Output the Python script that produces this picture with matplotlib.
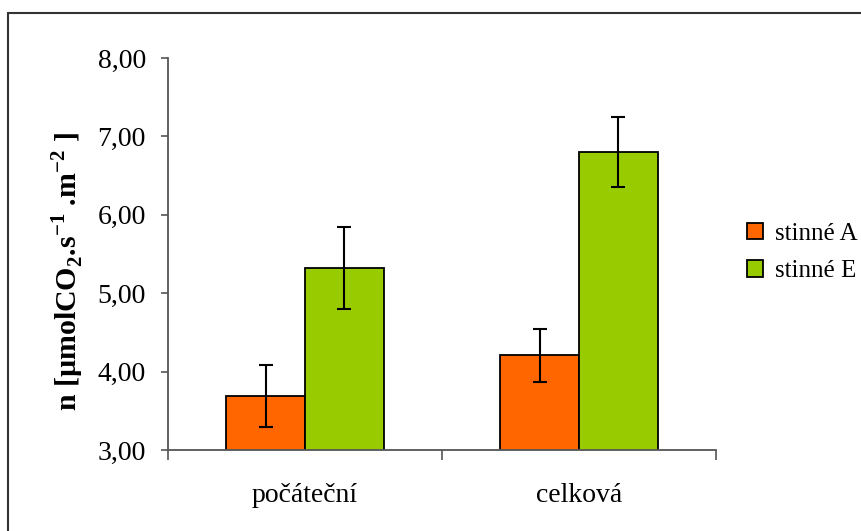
import numpy as np
import matplotlib.pyplot as plt
from matplotlib.patches import Rectangle
from matplotlib.ticker import FuncFormatter

categories = ['počáteční', 'celková']
series_names = ['stinné A', 'stinné E']
values_a = [3.69, 4.21]
errors_a = [0.39, 0.34]
values_e = [5.32, 6.80]
errors_e = [0.52, 0.45]
colors = ['#FF6600', '#99CC00']

plt.rcParams['font.family'] = ['Liberation Serif', 'DejaVu Serif']
plt.rcParams['mathtext.fontset'] = 'custom'
plt.rcParams['mathtext.rm'] = 'Liberation Serif'
plt.rcParams['mathtext.bf'] = 'Liberation Serif:bold'

fig = plt.figure(figsize=(8.62, 5.31), dpi=100)
ax = fig.add_axes([0.1949, 0.1525, 0.6357, 0.7382])

# outer chart frame (right and bottom edges fall outside the picture)
fig.patches.append(Rectangle((8 / 862, -0.05), 1.2, 1 - 13 / 531 + 0.05,
                             transform=fig.transFigure, fill=False,
                             edgecolor='#333333', linewidth=1.5))

x = np.arange(len(categories))
w = 0.288
err_kw = dict(ecolor='black', elinewidth=1.5, capsize=5, capthick=1.5)
ax.bar(x - w / 2, values_a, w, yerr=errors_a, color=colors[0],
       edgecolor='black', linewidth=1.3, label=series_names[0], error_kw=err_kw)
ax.bar(x + w / 2, values_e, w, yerr=errors_e, color=colors[1],
       edgecolor='black', linewidth=1.3, label=series_names[1], error_kw=err_kw)

ax.set_xlim(-0.5, len(categories) - 0.5)
ax.set_ylim(3, 8)
ax.set_yticks(np.arange(3, 8.01, 1))
ax.yaxis.set_major_formatter(FuncFormatter(lambda v, p: f'{v:.2f}'.replace('.', ',')))

ax.set_xticks(x)
ax.set_xticklabels(categories)
ax.set_xticks(np.arange(-0.5, len(categories), 1), minor=True)
ax.tick_params(axis='x', which='major', length=0, pad=24, labelsize=20)
ax.tick_params(axis='x', which='minor', length=7, width=1.2, color='#555555')
ax.tick_params(axis='y', length=5, width=1.2, color='#555555', pad=11, labelsize=20)

for s in ['top', 'right']:
    ax.spines[s].set_visible(False)
for s in ['left', 'bottom']:
    ax.spines[s].set_color('#555555')
    ax.spines[s].set_linewidth(1.3)

fig.text(0.078, 0.489,
         r'n [µmolCO$_{\mathbf{2}}$.s$^{\mathbf{-1}}$ .m$^{\mathbf{-2}}$ ]',
         rotation=90, ha='center', va='center', fontsize=21.5, fontweight='bold')

ax.legend(loc='center left', bbox_to_anchor=(747 / 862, 0.5245),
          bbox_transform=fig.transFigure, frameon=False, fontsize=18,
          handlelength=0.64, handleheight=0.64, handletextpad=0.48,
          labelspacing=0.6, borderpad=0, borderaxespad=0)

fig.savefig('out.png', dpi=100)
